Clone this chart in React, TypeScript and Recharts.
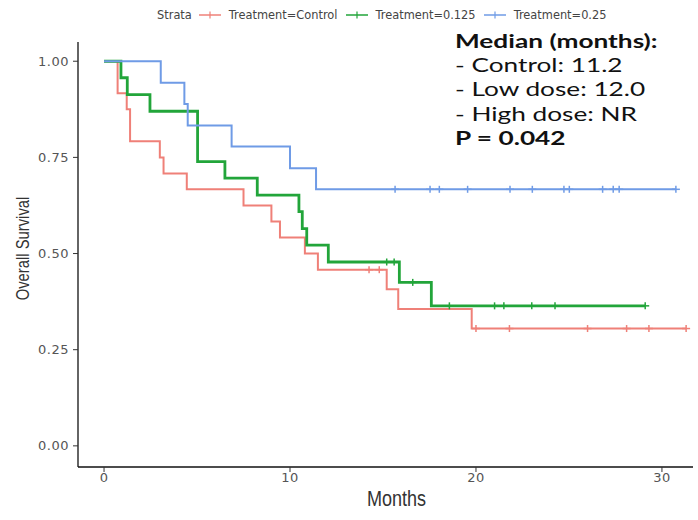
import React from 'react';
import { ComposedChart, Line, Scatter, XAxis, YAxis, Label } from 'recharts';

// Kaplan-Meier steps (months, survival)
const controlTimes = [0, 0.73, 1.22, 1.4, 3.0, 3.2, 4.45, 7.5, 9.0, 9.46, 10.8, 11.5, 15.2, 15.82, 19.77, 31.3];
const controlSurv = [1, 0.917, 0.875, 0.792, 0.75, 0.708, 0.667, 0.625, 0.583, 0.542, 0.5, 0.458, 0.407, 0.356, 0.305, 0.305];
const controlCensored = [14.25, 14.8, 20.0, 21.8, 26.0, 28.1, 29.3, 31.3];

const lowTimes = [0, 0.91, 1.25, 2.47, 5.03, 6.5, 8.24, 10.48, 10.66, 10.9, 12.06, 15.88, 17.6, 29.1];
const lowSurv = [1, 0.957, 0.913, 0.87, 0.739, 0.696, 0.652, 0.609, 0.565, 0.522, 0.478, 0.425, 0.364, 0.364];
const lowCensored = [15.2, 15.6, 16.6, 18.57, 21.0, 21.5, 23.0, 24.25, 29.1];

const highTimes = [0, 3.05, 4.32, 4.5, 6.86, 10.0, 11.4, 30.75];
const highSurv = [1, 0.944, 0.889, 0.833, 0.778, 0.722, 0.667, 0.667];
const highCensored = [15.65, 17.53, 18.03, 19.55, 21.83, 23.03, 24.73, 25.02, 26.81, 27.38, 27.7, 30.75];

const xTicks = [0, 10, 20, 30];
const yTicks = [0, 0.25, 0.5, 0.75, 1];

const strataTitle = 'Strata';
const strataLabels = ['Treatment=Control', 'Treatment=0.125', 'Treatment=0.25'];
const strataColors = ['#ef8078', '#22a53a', '#6f9be6'];
const strataWidths = [2, 2.8, 2];

const medianTitle = 'Median (months):';
const medianLines = ['- Control: 11.2', '- Low dose: 12.0', '- High dose: NR'];
const pValueText = 'P = 0.042';

const toSteps = (times: number[], surv: number[]) => times.map((t, i) => ({ t, s: surv[i] }));

// survival level of the step curve at each censoring time
const toCensor = (times: number[], surv: number[], cens: number[]) =>
  cens.map((c) => {
    let k = 0;
    for (let i = 0; i < times.length; i++) if (times[i] <= c) k = i;
    return { t: c, s: surv[k] };
  });

const series = [
  { steps: toSteps(controlTimes, controlSurv), cens: toCensor(controlTimes, controlSurv, controlCensored) },
  { steps: toSteps(lowTimes, lowSurv), cens: toCensor(lowTimes, lowSurv, lowCensored) },
  { steps: toSteps(highTimes, highSurv), cens: toCensor(highTimes, highSurv, highCensored) },
];

const makeCross = (color: string) => (props: any) => {
  const { cx, cy } = props;
  if (cx == null || cy == null) return <g />;
  return (
    <g>
      <line x1={cx - 4} x2={cx + 4} y1={cy} y2={cy} stroke={color} strokeWidth={1.5} />
      <line x1={cx} x2={cx} y1={cy - 3.5} y2={cy + 3.5} stroke={color} strokeWidth={1.5} />
    </g>
  );
};

const tickStyle = { fontFamily: '"DejaVu Sans", sans-serif', fontSize: 13, fill: '#555', letterSpacing: 0.5 };
const titleFont = '"Liberation Sans", Arial, sans-serif';

export default function App() {
  return (
    <div style={{ position: 'absolute', left: 0, top: 0, width: 698, height: 520, background: '#fff' }}>
      <ComposedChart width={698} height={520} margin={{ top: 42, right: 5, bottom: 0, left: 0 }}>
        <XAxis
          type="number"
          dataKey="t"
          domain={[-1.4, 31.67]}
          ticks={xTicks}
          allowDataOverflow
          height={53}
          axisLine={{ stroke: '#111', strokeWidth: 1.3 }}
          tickLine={{ stroke: '#333' }}
          tickSize={5}
          tickMargin={1}
          tick={tickStyle}
        >
          <Label
            content={({ viewBox }: any) => (
              <text
                transform={`translate(${viewBox.x + viewBox.width / 2 + 11} 506) scale(0.82 1)`}
                textAnchor="middle"
                fontFamily={titleFont}
                fontSize={22}
                fill="#333"
              >
                Months
              </text>
            )}
          />
        </XAxis>
        <YAxis
          type="number"
          dataKey="s"
          domain={[-0.055, 1.05]}
          ticks={yTicks}
          allowDataOverflow
          width={78}
          axisLine={{ stroke: '#111', strokeWidth: 1.3 }}
          tickLine={{ stroke: '#333' }}
          tickSize={5}
          tickMargin={4}
          tick={tickStyle}
          tickFormatter={(v: number) => v.toFixed(2)}
        >
          <Label
            content={({ viewBox }: any) => {
              const cx = 29;
              const cy = viewBox.y + viewBox.height / 2 - 6;
              return (
                <text
                  transform={`translate(${cx} ${cy}) rotate(-90) scale(0.8 1)`}
                  textAnchor="middle"
                  fontFamily={titleFont}
                  fontSize={18.5}
                  fill="#333"
                >
                  Overall Survival
                </text>
              );
            }}
          />
        </YAxis>
        {series.map((sr, i) => (
          <Line
            key={'l' + i}
            data={sr.steps}
            dataKey="s"
            type="stepAfter"
            stroke={strataColors[i]}
            strokeWidth={strataWidths[i]}
            dot={false}
            activeDot={false}
            isAnimationActive={false}
          />
        ))}
        {series.map((sr, i) => (
          <Scatter
            key={'c' + i}
            data={sr.cens}
            dataKey="s"
            shape={makeCross(strataColors[i])}
            isAnimationActive={false}
          />
        ))}
      </ComposedChart>

      {/* legend */}
      <div
        style={{
          position: 'absolute',
          left: 157,
          top: 8,
          display: 'flex',
          alignItems: 'center',
          fontFamily: '"DejaVu Sans", sans-serif',
          fontSize: 11.4,
          color: '#444',
          whiteSpace: 'nowrap',
        }}
      >
        <span style={{ marginRight: 7 }}>{strataTitle}</span>
        {strataLabels.map((lab, i) => (
          <span key={lab} style={{ display: 'flex', alignItems: 'center', marginRight: 8 }}>
            <svg width={22} height={10} style={{ marginRight: 8 }}>
              <line x1={0} x2={22} y1={5} y2={5} stroke={strataColors[i]} strokeWidth={1.5} />
              <line x1={11} x2={11} y1={1.5} y2={8.5} stroke={strataColors[i]} strokeWidth={1.2} />
            </svg>
            <span>{lab}</span>
          </span>
        ))}
      </div>

      {/* median / p-value annotation */}
      <div
        style={{
          position: 'absolute',
          left: 455,
          top: 29,
          fontFamily: 'Lato, "Open Sans", sans-serif',
          fontSize: 19,
          lineHeight: '24.2px',
          color: '#111',
          whiteSpace: 'nowrap',
        }}
      >
        {[medianTitle, ...medianLines, pValueText].map((txt, i) => (
          <div
            key={i}
            style={{
              fontWeight: i === 0 || i === medianLines.length + 1 ? 700 : 400,
              transform: 'scaleX(1.38)',
              transformOrigin: 'left',
            }}
          >
            {txt}
          </div>
        ))}
      </div>
    </div>
  );
}
